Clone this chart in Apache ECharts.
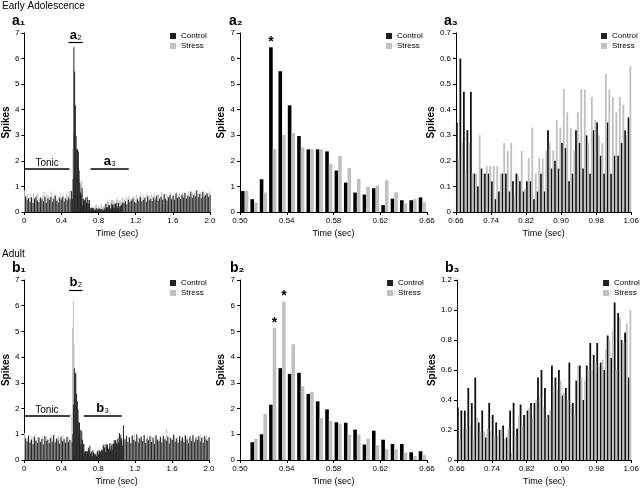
<!DOCTYPE html>
<html><head><meta charset="utf-8">
<script src="https://cdn.jsdelivr.net/npm/echarts@6/dist/echarts.min.js"></script>
<style>html,body{margin:0;padding:0;background:#fff}#c{width:642px;height:488px}</style>
</head><body><div id="c"></div>
<script>
// ---------- DATA (spikes per 8 ms / 16 ms bin) ----------
const seriesNames = ['Control', 'Stress'];
const xTicksA1 = [0, 0.4, 0.8, 1.2, 1.6, 2.0];
// Early adolescence: tonic period 0-0.5 s (16 ms bins)
const tonicA_ctrl = [0.62,0.48,0.55,0.40,0.58,0.35,0.52,0.60,0.45,0.38,0.56,0.50,0.42,0.61,0.36,0.54,0.47,0.58,0.40,0.52,0.63,0.44,0.37,0.55,0.49,0.60,0.41,0.53,0.46,0.57,0.50];
const tonicA_str  = [0.85,0.62,0.70,0.55,0.68,0.50,0.72,0.58,0.66,0.75,0.52,0.64,0.60,0.78,0.55,0.69,0.63,0.58,0.80,0.57,0.66,0.71,0.54,0.62,0.74,0.59,0.67,0.56,0.70,0.65,0.82];
// a2: 0.50-0.66 s (8 ms bins)
const a2_ctrl = [0.82,0.50,1.28,6.44,5.50,4.17,2.97,2.45,2.45,2.37,1.62,1.15,0.76,0.68,0.93,0.27,0.52,0.46,0.46,0.57];
const a2_str  = [0.83,0.37,0.76,2.46,3.01,3.09,2.52,2.45,2.45,1.89,2.19,1.72,1.29,0.98,1.04,1.24,0.77,0.34,0.50,0.38];
const a2_starCtrl = [3];
// a3: 0.66-1.06 s (8 ms bins)
const a3_ctrl = [0.35,0.60,0.47,0.32,0.47,0.15,0.10,0.17,0.15,0.15,0.12,0.05,0.08,0.15,0.15,0.08,0.12,0.15,0.12,0.08,0.12,0.12,0.05,0.08,0.15,0.08,0.32,0.17,0.20,0.17,0.27,0.25,0.12,0.15,0.32,0.27,0.17,0.30,0.15,0.32,0.35,0.22,0.15,0.35,0.15,0.22,0.22,0.27,0.32,0.37];
const a3_str  = [0.21,0.27,0.15,0.27,0.15,0.15,0.30,0.15,0.18,0.18,0.18,0.18,0.15,0.27,0.24,0.27,0.06,0.14,0.24,0.09,0.21,0.33,0.15,0.21,0.21,0.24,0.27,0.24,0.36,0.33,0.48,0.39,0.33,0.24,0.39,0.48,0.48,0.27,0.45,0.36,0.30,0.27,0.54,0.48,0.45,0.39,0.45,0.42,0.30,0.57];
// late period 1.06-2.0 s (16 ms bins)
const lateA_ctrl = [0.35,0.42,0.30,0.48,0.38,0.45,0.52,0.40,0.36,0.50,0.44,0.58,0.41,0.47,0.55,0.39,0.62,0.46,0.51,0.43,0.57,0.49,0.65,0.44,0.53,0.60,0.47,0.70,0.52,0.45,0.58,0.66,0.50,0.62,0.48,0.72,0.55,0.60,0.51,0.68,0.57,0.75,0.53,0.64,0.59,0.80,0.56,0.67,0.62,0.85,0.58,0.70,0.54,0.78,0.61,0.66,0.72,0.59,0.68];
const lateA_str  = [0.55,0.48,0.60,0.52,0.65,0.50,0.58,0.62,0.55,0.68,0.57,0.63,0.70,0.56,0.66,0.60,0.72,0.58,0.64,0.69,0.61,0.75,0.59,0.67,0.71,0.63,0.78,0.60,0.68,0.73,0.65,0.62,0.76,0.66,0.70,0.64,0.79,0.68,0.72,0.65,0.77,0.70,0.74,0.67,0.80,0.71,0.69,0.76,0.73,0.82,0.70,0.75,0.78,0.72,0.84,0.74,0.77,0.71,0.80];
// Adult
const tonicB_ctrl = [0.85,0.72,0.95,0.68,0.80,0.62,0.90,0.75,0.66,0.88,0.70,0.82,0.60,0.93,0.74,0.79,0.65,0.86,0.71,0.97,0.68,0.84,0.76,0.63,0.91,0.73,0.81,0.67,0.89,0.70,0.78];
const tonicB_str  = [1.05,0.80,0.88,0.95,0.76,0.92,0.84,0.98,0.79,0.90,0.86,0.74,0.96,0.82,0.89,0.93,0.78,0.85,0.99,0.81,0.91,0.77,0.87,0.94,0.83,0.80,0.97,0.86,0.79,0.92,0.88];
const b2_ctrl = [0,0.69,1.00,2.15,3.57,3.35,3.39,2.57,2.28,1.97,1.47,1.45,1.18,0.60,1.14,0.79,0.62,0.62,0.30,0.34];
const b2_str  = [0,0.82,1.79,5.14,6.16,4.50,2.87,2.65,1.63,1.52,1.41,0.99,0.99,0.83,0.58,0.43,0.42,0.29,0.16,0.19];
const b2_starStr = [3, 4];
const b3_ctrl = [0.35,0.33,0.33,0.48,0.38,0.55,0.25,0.33,0.15,0.38,0.30,0.25,0.20,0.23,0.15,0.33,0.38,0.21,0.37,0.30,0.33,0.38,0.38,0.55,0.60,0.48,0.30,0.63,0.55,0.60,0.43,0.48,0.65,0.38,0.53,0.63,0.40,0.63,0.78,0.70,0.78,0.65,0.60,0.83,0.68,1.05,0.98,0.80,0.85,0.55];
const b3_str  = [0.14,0.21,0.21,0.23,0.14,0.28,0.19,0.19,0.21,0.19,0.16,0.16,0.21,0.14,0.21,0.05,0.16,0.30,0.23,0.30,0.35,0.28,0.40,0.42,0.35,0.28,0.33,0.49,0.47,0.53,0.45,0.40,0.37,0.30,0.63,0.55,0.53,0.60,0.60,0.65,0.62,0.67,0.74,0.80,0.86,0.60,0.95,0.78,0.91,1.00];
const lateB_ctrl = [1.35,0.80,0.92,0.70,0.88,0.65,0.95,0.78,0.72,1.00,0.68,0.85,0.90,0.74,0.98,0.66,0.83,0.77,0.93,0.70,0.87,0.62,0.96,0.79,0.73,0.89,0.68,0.94,0.81,0.75,0.91,0.64,0.86,0.78,0.99,0.71,0.84,0.67,0.92,0.76,0.88,0.70,0.95,0.80,0.65,0.90,0.74,0.97,0.69,0.85,0.78,0.93,0.72,0.87,0.66,0.94,0.80,0.75,0.89];
const lateB_str  = [0.75,0.95,0.82,0.98,0.88,0.78,0.93,0.85,0.99,0.80,0.90,0.86,0.76,0.94,0.83,0.91,0.79,0.97,0.87,0.81,0.92,0.77,0.89,0.95,0.84,0.80,0.96,0.86,0.82,0.90,1.20,0.85,0.93,0.79,0.88,0.97,0.83,0.91,0.78,0.94,0.86,0.81,0.99,0.87,0.92,0.80,0.96,0.84,0.89,0.77,0.93,0.88,0.82,0.98,0.85,0.90,0.79,0.95,0.87];

// ---------- BUILD ----------
const FONT = "'Liberation Sans', Arial, sans-serif";
const C_CTRL = '#000000', C_STR = '#c0c0c0';
function bins(start, w, vals, origin) {
  return vals.map((v, i) => [start - origin + w * (i + 0.5), v]);
}
const a1C = [].concat(bins(0,0.016,tonicA_ctrl,0), bins(0.5,0.008,a2_ctrl,0), bins(0.66,0.008,a3_ctrl,0), bins(1.06,0.016,lateA_ctrl,0));
const a1S = [].concat(bins(0,0.016,tonicA_str,0), bins(0.5,0.008,a2_str,0), bins(0.66,0.008,a3_str,0), bins(1.06,0.016,lateA_str,0));
const b1C = [].concat(bins(0,0.016,tonicB_ctrl,0), bins(0.5,0.008,b2_ctrl,0), bins(0.66,0.008,b3_ctrl,0), bins(1.06,0.016,lateB_ctrl,0));
const b1S = [].concat(bins(0,0.016,tonicB_str,0), bins(0.5,0.008,b2_str,0), bins(0.66,0.008,b3_str,0), bins(1.06,0.016,lateB_str,0));

const grids = [
  {left:24, top:33, width:186, height:179},
  {left:240, top:33, width:187, height:179},
  {left:456, top:33, width:181, height:179},
  {left:24, top:280, width:185, height:180},
  {left:240, top:280, width:187, height:180},
  {left:457, top:280, width:180, height:180}
];
function xAx(idx, origin, span, interval, dec) {
  return {type:'value', gridIndex:idx, min:0, max:span, interval:interval,
    name:'Time (sec)', nameLocation:'middle', nameGap:17,
    nameTextStyle:{fontFamily:FONT, fontSize:9, color:'#000'},
    axisLine:{onZero:false, lineStyle:{color:'#000', width:1}},
    axisTick:{show:true, length:3, lineStyle:{color:'#000'}},
    axisLabel:{fontFamily:FONT, fontSize:8, color:'#000', margin:5,
      formatter: v => { const t = v + origin; return Math.abs(t) < 1e-9 ? '0' : t.toFixed(dec); }},
    splitLine:{show:false}};
}
function yAx(idx, max, interval, dec) {
  return {type:'value', gridIndex:idx, min:0, max:max, interval:interval,
    name:'Spikes', nameLocation:'middle', nameGap:11,
    nameTextStyle:{fontFamily:FONT, fontSize:10, fontWeight:'bold', color:'#000'},
    axisLine:{show:true, lineStyle:{color:'#000', width:1}},
    axisTick:{show:true, length:3, lineStyle:{color:'#000'}},
    axisLabel:{fontFamily:FONT, fontSize:8, color:'#000', margin:5,
      formatter: v => v === 0 ? '0' : v.toFixed(dec)},
    splitLine:{show:false}};
}
const starLabel = {show:true, position:'top', distance:-2, formatter:'*', fontFamily:FONT, fontSize:14, fontWeight:'bold', color:'#000'};
function bar(name, idx, data, color, bw, stars) {
  return {type:'bar', name:name, xAxisIndex:idx, yAxisIndex:idx, barWidth:bw, barGap:'0%',
    silent:true, animation:false, itemStyle:{color:color},
    data: data.map((d, i) => (stars && stars.indexOf(i) >= 0) ? {value:d, label:starLabel} : d)};
}
const sub = {b:{fontFamily:FONT, fontSize:13, fontWeight:'bold', color:'#000'}, s:{fontFamily:FONT, fontSize:12, color:'#000'}};
function segLine(x0, x1, y, text, w) {
  return [{coord:[x0, y], lineStyle:{color:'#000', width:w, type:'solid'},
           label:{show:true, position:'middle', distance:1, formatter:text, fontFamily:FONT, fontSize:10, color:'#000', rich:sub}},
          {coord:[x1, y]}];
}
function marks(letter, n2, n3, xs) {
  return {symbol:['none','none'], silent:true, animation:false,
    data:[segLine(xs[0], xs[1], xs[2], '{b|' + letter + '}{s|' + n2 + '}', 1.2),
          segLine(xs[3], xs[4], xs[5], 'Tonic', 1.5),
          segLine(xs[6], xs[7], xs[5], '{b|' + letter + '}{s|' + n3 + '}', 1.5)]};
}
function legend(left, top) {
  return {data:seriesNames, left:left, top:top, orient:'vertical', icon:'rect', itemWidth:6, itemHeight:6,
    itemGap:2, padding:0, selectedMode:false, textStyle:{fontFamily:FONT, fontSize:8, color:'#000'}};
}
function panelTitle(letter, n, left, top) {
  return {text:'{b|' + letter + '}{s|' + n + '}', left:left, top:top, padding:0,
    textStyle:{rich:{b:{fontFamily:FONT, fontSize:14, fontWeight:'bold', color:'#000'}, s:{fontFamily:FONT, fontSize:13, color:'#000'}}}};
}

const sA1 = bar('Stress', 0, a1S, C_STR, 1);
const cA1 = bar('Control', 0, a1C, '#222', 1);
sA1.markLine = marks('a', '₂', '₃', [0.48, 0.635, 6.62, 0.01, 0.49, 1.68, 0.72, 1.13]);
const sB1 = bar('Stress', 3, b1S, C_STR, 1);
const cB1 = bar('Control', 3, b1C, '#222', 1);
sB1.markLine = marks('b', '₂', '₃', [0.49, 0.635, 6.61, 0.0, 0.5, 1.72, 0.65, 1.06]);

const option = {
  backgroundColor:'#fff',
  animation:false,
  title:[
    {text:'Early Adolescence', left:2, top:1, padding:0, textStyle:{fontFamily:FONT, fontSize:10, fontWeight:'normal', color:'#000'}},
    {text:'Adult', left:2, top:249, padding:0, textStyle:{fontFamily:FONT, fontSize:10, fontWeight:'normal', color:'#000'}},
    panelTitle('a','₁',12,14), panelTitle('a','₂',229,14), panelTitle('a','₃',444,14),
    panelTitle('b','₁',12,261), panelTitle('b','₂',230,261), panelTitle('b','₃',445,261)
  ],
  legend:[legend(170,32), legend(386,32), legend(601,32), legend(170,279), legend(387,279), legend(603,279)],
  grid:grids,
  xAxis:[xAx(0,0,2.0,0.4,1), xAx(1,0.5,0.16,0.04,2), xAx(2,0.66,0.40,0.08,2),
         xAx(3,0,2.0,0.4,1), xAx(4,0.5,0.16,0.04,2), xAx(5,0.66,0.40,0.08,2)],
  yAxis:[yAx(0,7,1,0), yAx(1,7,1,0), yAx(2,0.7,0.1,1), yAx(3,7,1,0), yAx(4,7,1,0), yAx(5,1.2,0.2,1)],
  series:[
    sA1, cA1,
    bar('Control', 1, bins(0.5,0.008,a2_ctrl,0.5), C_CTRL, 3.6, a2_starCtrl),
    bar('Stress', 1, bins(0.5,0.008,a2_str,0.5), C_STR, 3.6),
    bar('Control', 2, bins(0.66,0.008,a3_ctrl,0.66), '#111', 1.8),
    bar('Stress', 2, bins(0.66,0.008,a3_str,0.66), C_STR, 1.8),
    sB1, cB1,
    bar('Control', 4, bins(0.5,0.008,b2_ctrl,0.5), C_CTRL, 3.6),
    bar('Stress', 4, bins(0.5,0.008,b2_str,0.5), C_STR, 3.6, b2_starStr),
    bar('Control', 5, bins(0.66,0.008,b3_ctrl,0.66), '#111', 1.8),
    bar('Stress', 5, bins(0.66,0.008,b3_str,0.66), C_STR, 1.8)
  ]
};
const chart = echarts.init(document.getElementById('c'), null, {renderer:'canvas'});
chart.setOption(option);
</script></body></html>
